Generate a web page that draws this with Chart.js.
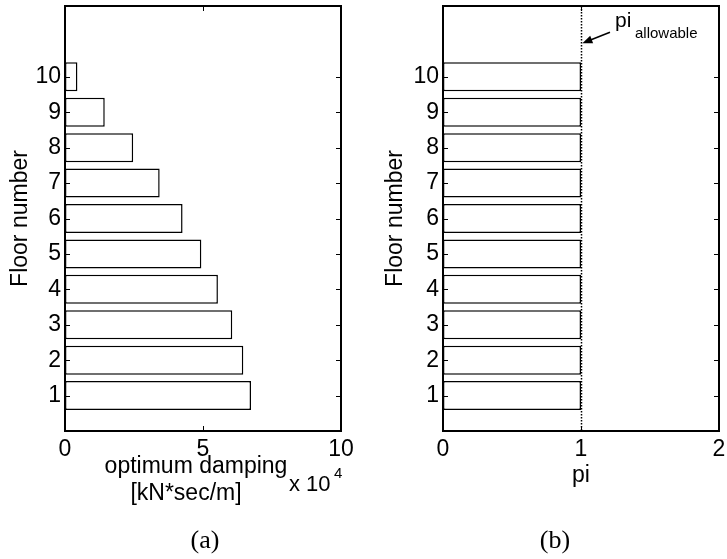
<!DOCTYPE html>
<html>
<head>
<meta charset="utf-8">
<script src="https://cdn.jsdelivr.net/npm/chart.js@4/dist/chart.umd.min.js"></script>
<style>
  html, body { margin: 0; padding: 0; background: #fff; }
  #wrap { position: relative; width: 727px; height: 559px; }
  #wa { position: absolute; left: 0; top: 0; width: 370px; height: 559px; }
  #wb { position: absolute; left: 370px; top: 0; width: 357px; height: 559px; }
</style>
</head>
<body>
<div id="wrap">
  <div id="wa"><canvas id="chart-a"></canvas></div>
  <div id="wb"><canvas id="chart-b"></canvas></div>
</div>
<script>
// floor data
const FLOORS = [1, 2, 3, 4, 5, 6, 7, 8, 9, 10];
const DAMPING = [67400, 64600, 60600, 55400, 49400, 42600, 34300, 24700, 14400, 4500]; // kN*sec/m
const PI_VALUES = [1, 1, 1, 1, 1, 1, 1, 1, 1, 1];
const PI_ALLOWABLE = 1;
const DAMPING_TICKS = [0, 50000, 100000];
const PI_TICKS = [0, 1, 2];

const SANS = "'Liberation Sans', Arial, sans-serif";
const SERIF = "'Liberation Serif', 'Times New Roman', serif";
const FS = 23;

Chart.defaults.font.family = SANS;
Chart.defaults.font.size = FS;
Chart.defaults.color = '#000';

// MATLAB style box with inward ticks on all four sides
const matlabFrame = {
    id: 'matlabFrame',
    afterDatasetsDraw(chart) {
        const { ctx, chartArea: a, scales: { x, y } } = chart;
        ctx.save();
        ctx.strokeStyle = '#000';
        ctx.lineWidth = 1;
        ctx.beginPath();
        x.ticks.forEach(t => {
            const px = Math.round(x.getPixelForValue(t.value)) + 0.5;
            ctx.moveTo(px, a.bottom); ctx.lineTo(px, a.bottom - 5);
            ctx.moveTo(px, a.top); ctx.lineTo(px, a.top + 5);
        });
        y.ticks.forEach(t => {
            const py = Math.round(y.getPixelForValue(t.value)) + 0.5;
            ctx.moveTo(a.left, py); ctx.lineTo(a.left + 5, py);
            ctx.moveTo(a.right, py); ctx.lineTo(a.right - 5, py);
        });
        ctx.stroke();
        ctx.lineWidth = 2;
        ctx.strokeRect(a.left, a.top, a.right - a.left, a.bottom - a.top);
        ctx.restore();
    }
};

function barData(values) {
    return FLOORS.map((f, i) => ({ x: values[i], y: f }));
}

function makeOptions(xMax, xTicks, xFmt, yWidth, rightPad, titlePad) {
    return {
        indexAxis: 'y',
        responsive: true,
        maintainAspectRatio: false,
        animation: false,
        events: [],
        layout: { padding: { top: 6, right: rightPad, bottom: 0, left: 0 } },
        plugins: { legend: { display: false }, tooltip: { enabled: false } },
        scales: {
            x: {
                type: 'linear',
                min: 0,
                max: xMax,
                afterBuildTicks: s => { s.ticks = xTicks.map(v => ({ value: v })); },
                afterFit: s => { s.height = 128; s.paddingLeft = 0; s.paddingRight = 0; },
                ticks: { padding: 4.5, maxRotation: 0, callback: xFmt },
                grid: { display: false, drawTicks: false },
                border: { display: false }
            },
            y: {
                type: 'linear',
                min: 0,
                max: 12,
                offset: false,
                afterBuildTicks: s => { s.ticks = FLOORS.map(v => ({ value: v })); },
                afterFit: s => { s.width = yWidth; s.paddingTop = 0; s.paddingBottom = 0; },
                ticks: { padding: 4 },
                grid: { display: false, drawTicks: false },
                border: { display: false },
                title: { display: true, text: 'Floor number', padding: { top: titlePad, bottom: 0 } }
            }
        }
    };
}

const barStyle = {
    backgroundColor: '#fff',
    borderColor: '#000',
    borderWidth: 1.5,
    borderSkipped: false,
    barPercentage: 0.82,
    categoryPercentage: 1
};

// (a) texts
const labelsA = {
    id: 'labelsA',
    afterDraw(chart) {
        const { ctx } = chart;
        ctx.save();
        ctx.fillStyle = '#000';
        ctx.textBaseline = 'alphabetic';
        ctx.font = FS + 'px ' + SANS;
        ctx.textAlign = 'center';
        ctx.fillText('optimum damping', 196, 473);
        ctx.fillText('[kN*sec/m]', 186, 500);
        ctx.textAlign = 'left';
        ctx.font = '22px ' + SANS;
        ctx.fillText('x 10', 289, 491);
        ctx.font = '15px ' + SANS;
        ctx.fillText('4', 334, 478);
        ctx.font = '26px ' + SERIF;
        ctx.textAlign = 'center';
        ctx.fillText('(a)', 205, 548);
        ctx.restore();
    }
};

// (b) texts, allowable line and arrow
const labelsB = {
    id: 'labelsB',
    afterDraw(chart) {
        const { ctx, chartArea: a, scales: { x, y } } = chart;
        ctx.save();
        const px = Math.round(x.getPixelForValue(PI_ALLOWABLE)) + 0.5;
        ctx.strokeStyle = '#000';
        ctx.lineWidth = 1.5;
        ctx.setLineDash([1.5, 1.5]);
        ctx.beginPath();
        ctx.moveTo(px, a.top);
        ctx.lineTo(px, a.bottom);
        ctx.stroke();
        ctx.setLineDash([]);

        // arrow to the allowable line
        const tipX = x.getPixelForValue(PI_ALLOWABLE * 1.01), tipY = y.getPixelForValue(10.95);
        const tailX = x.getPixelForValue(1.21), tailY = y.getPixelForValue(11.26);
        const ang = Math.atan2(tipY - tailY, tipX - tailX);
        ctx.lineWidth = 1.5;
        ctx.beginPath();
        ctx.moveTo(tailX, tailY);
        ctx.lineTo(tipX - 6 * Math.cos(ang), tipY - 6 * Math.sin(ang));
        ctx.stroke();
        ctx.beginPath();
        ctx.moveTo(tipX, tipY);
        ctx.lineTo(tipX - 10 * Math.cos(ang) + 4 * Math.sin(ang), tipY - 10 * Math.sin(ang) - 4 * Math.cos(ang));
        ctx.lineTo(tipX - 10 * Math.cos(ang) - 4 * Math.sin(ang), tipY - 10 * Math.sin(ang) + 4 * Math.cos(ang));
        ctx.closePath();
        ctx.fillStyle = '#000';
        ctx.fill();

        ctx.textBaseline = 'alphabetic';
        ctx.textAlign = 'left';
        ctx.font = '21px ' + SANS;
        ctx.fillText('pi', 245, 27);
        ctx.font = '15px ' + SANS;
        ctx.fillText('allowable', 265, 37.5);

        ctx.textAlign = 'center';
        ctx.font = FS + 'px ' + SANS;
        ctx.fillText('pi', (a.left + a.right) / 2, 482);
        ctx.font = '26px ' + SERIF;
        ctx.fillText('(b)', 185, 548);
        ctx.restore();
    }
};

new Chart(document.getElementById('chart-a').getContext('2d'), {
    type: 'bar',
    data: { datasets: [Object.assign({ data: barData(DAMPING) }, barStyle)] },
    options: makeOptions(100000, DAMPING_TICKS, v => String(v / 10000), 65, 29, 6.5),
    plugins: [matlabFrame, labelsA]
});

new Chart(document.getElementById('chart-b').getContext('2d'), {
    type: 'bar',
    data: { datasets: [Object.assign({ data: barData(PI_VALUES) }, barStyle)] },
    options: makeOptions(2, PI_TICKS, v => String(v), 73, 8, 11.5),
    plugins: [matlabFrame, labelsB]
});
</script>
</body>
</html>
